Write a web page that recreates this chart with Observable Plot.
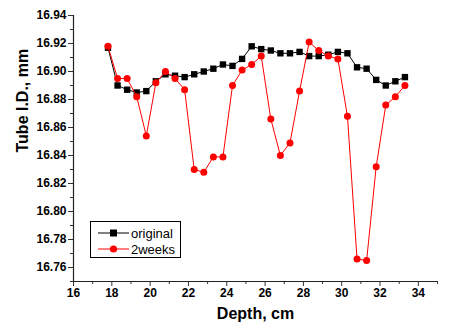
<!DOCTYPE html>
<html>
<head>
<meta charset="utf-8">
<script src="https://cdn.jsdelivr.net/npm/d3@7"></script>
<script src="https://cdn.jsdelivr.net/npm/@observablehq/plot@0.6"></script>
<style>
  html, body { margin: 0; padding: 0; background: #fff; }
  #wrap { position: relative; width: 456px; height: 333px; font-family: "Liberation Sans", Arial, sans-serif; }
  #legend { position: absolute; left: 90px; top: 221px; }
</style>
</head>
<body>
<div id="wrap"></div>
<script>
const depth = [17.8, 18.3, 18.8, 19.3, 19.8, 20.3, 20.8, 21.3, 21.8, 22.3, 22.8, 23.3, 23.8, 24.3, 24.8, 25.3,
               25.8, 26.3, 26.8, 27.3, 27.8, 28.3, 28.8, 29.3, 29.8, 30.3, 30.8, 31.3, 31.8, 32.3, 32.8, 33.3];
const original = [16.917, 16.890, 16.887, 16.885, 16.886, 16.893, 16.898, 16.897, 16.896, 16.898, 16.900, 16.902,
                  16.905, 16.904, 16.909, 16.918, 16.916, 16.915, 16.913, 16.913, 16.914, 16.911, 16.911, 16.912,
                  16.914, 16.913, 16.903, 16.902, 16.894, 16.890, 16.893, 16.896];
const twoWeeks = [16.918, 16.895, 16.895, 16.882, 16.854, 16.892, 16.900, 16.895, 16.887, 16.830, 16.828, 16.839,
                  16.839, 16.890, 16.901, 16.905, 16.911, 16.866, 16.840, 16.849, 16.886, 16.921, 16.915, 16.911,
                  16.909, 16.868, 16.766, 16.765, 16.832, 16.876, 16.882, 16.890];
const seriesNames = ["original", "2weeks"];
const seriesColors = ["#000000", "#ff0000"];
const xTicks = [16, 18, 20, 22, 24, 26, 28, 30, 32, 34];
const xMinorTicks = [17, 19, 21, 23, 25, 27, 29, 31, 33, 35];
const yTicks = [16.76, 16.78, 16.80, 16.82, 16.84, 16.86, 16.88, 16.90, 16.92, 16.94];
const yMinorTicks = [16.75, 16.77, 16.79, 16.81, 16.83, 16.85, 16.87, 16.89, 16.91, 16.93];
const xLabel = "Depth, cm";
const yLabel = "Tube I.D., mm";

const origData = depth.map((d, i) => ({x: d, y: original[i]}));
const twoData = depth.map((d, i) => ({x: d, y: twoWeeks[i]}));

const font = "Liberation Sans, Arial, sans-serif";

const chart = Plot.plot({
  width: 456,
  height: 333,
  marginLeft: 73,
  marginRight: 19,
  marginTop: 15,
  marginBottom: 52,
  style: {fontFamily: font, fontSize: "12px", fontWeight: "bold", background: "#fff", color: "#000"},
  x: {domain: [16, 35], axis: null},
  y: {domain: [16.75, 16.94], axis: null},
  marks: [
    Plot.axisX({ticks: xTicks, tickSize: 5, tickPadding: 2, label: null, fontSize: 12, fontWeight: "bold", stroke: "#333"}),
    Plot.axisX({ticks: xMinorTicks, tickSize: 3, tickFormat: () => "", label: null, stroke: "#333"}),
    Plot.axisY({ticks: yTicks, tickSize: 5, tickPadding: 2, tickFormat: d3.format(".2f"), label: null, fontSize: 12, fontWeight: "bold", stroke: "#333"}),
    Plot.axisY({ticks: yMinorTicks, tickSize: 3, tickFormat: () => "", label: null, stroke: "#333"}),
    Plot.ruleX([16], {stroke: "#222", strokeWidth: 1.2}),
    Plot.ruleY([16.75], {stroke: "#222", strokeWidth: 1.2}),
    Plot.line(origData, {x: "x", y: "y", stroke: seriesColors[0], strokeWidth: 1}),
    Plot.dot(origData, {x: "x", y: "y", symbol: "square", r: 3.6, fill: seriesColors[0], stroke: "none"}),
    Plot.line(twoData, {x: "x", y: "y", stroke: seriesColors[1], strokeWidth: 1}),
    Plot.dot(twoData, {x: "x", y: "y", symbol: "circle", r: 3.5, fill: seriesColors[1], stroke: "none"}),
    Plot.text([xLabel], {frameAnchor: "bottom", dy: 37, fontSize: 16, fontWeight: "bold", fill: "#000"}),
    Plot.text([yLabel], {frameAnchor: "left", rotate: -90, dx: -51, dy: 4, fontSize: 16, fontWeight: "bold", fill: "#000"})
  ]
});

const wrap = document.getElementById("wrap");
wrap.appendChild(chart);

// Legend
const ns = "http://www.w3.org/2000/svg";
const leg = document.createElementNS(ns, "svg");
leg.setAttribute("id", "legend");
leg.setAttribute("width", 92);
leg.setAttribute("height", 38);
const box = document.createElementNS(ns, "rect");
box.setAttribute("x", 0.5); box.setAttribute("y", 0.5);
box.setAttribute("width", 90); box.setAttribute("height", 36);
box.setAttribute("fill", "#fff"); box.setAttribute("stroke", "#000"); box.setAttribute("stroke-width", 1);
leg.appendChild(box);
seriesNames.forEach((name, i) => {
  const cy = 12 + i * 16;
  const ln = document.createElementNS(ns, "line");
  ln.setAttribute("x1", 8); ln.setAttribute("x2", 39);
  ln.setAttribute("y1", cy); ln.setAttribute("y2", cy);
  ln.setAttribute("stroke", seriesColors[i]); ln.setAttribute("stroke-width", 1);
  leg.appendChild(ln);
  let m;
  if (i === 0) {
    m = document.createElementNS(ns, "rect");
    m.setAttribute("x", 20); m.setAttribute("y", cy - 3.5);
    m.setAttribute("width", 7); m.setAttribute("height", 7);
  } else {
    m = document.createElementNS(ns, "circle");
    m.setAttribute("cx", 23.5); m.setAttribute("cy", cy); m.setAttribute("r", 3.6);
  }
  m.setAttribute("fill", seriesColors[i]);
  leg.appendChild(m);
  const t = document.createElementNS(ns, "text");
  t.setAttribute("x", 41); t.setAttribute("y", cy + 4.5);
  t.setAttribute("font-family", font);
  t.setAttribute("font-size", 13);
  t.setAttribute("fill", "#000");
  t.textContent = name;
  leg.appendChild(t);
});
wrap.appendChild(leg);
</script>
</body>
</html>
